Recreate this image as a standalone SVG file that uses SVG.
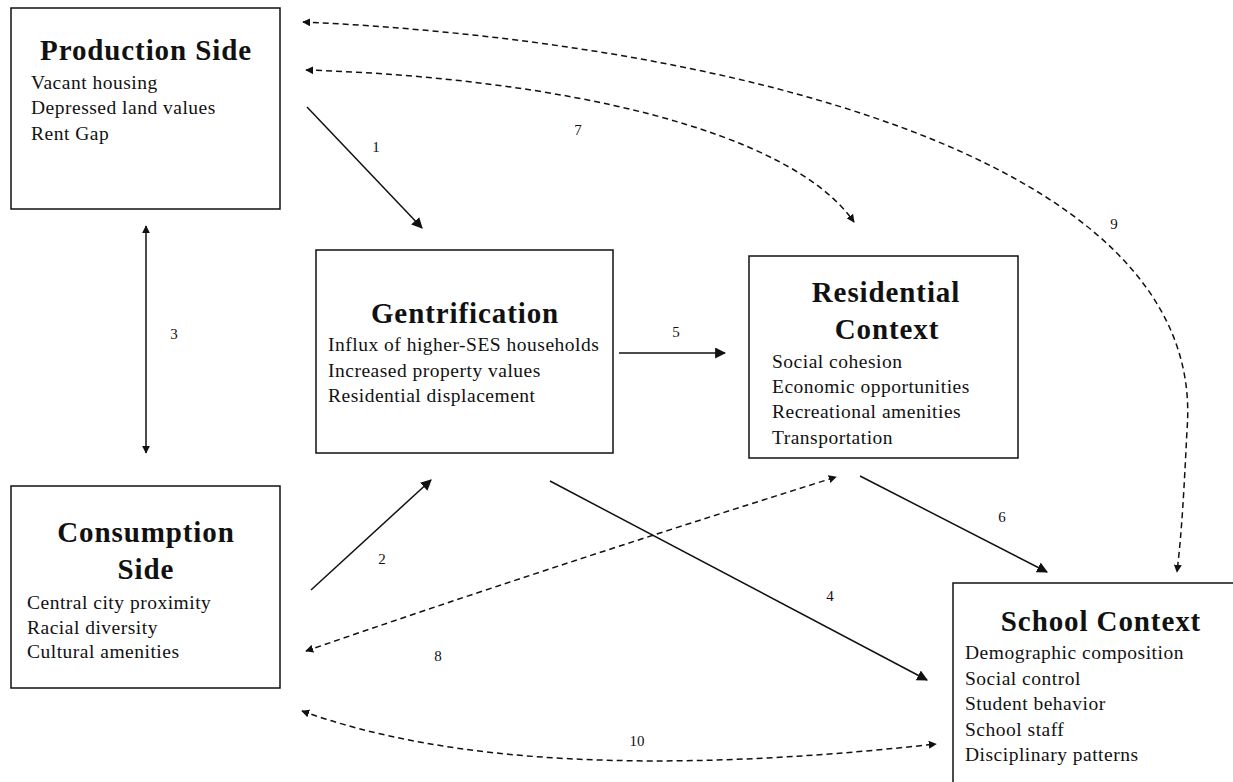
<svg xmlns="http://www.w3.org/2000/svg" width="1233" height="782" viewBox="0 0 1233 782">
<style>
.box{fill:#fff;stroke:#111;stroke-width:1.5}
.title{font-family:"Liberation Serif",serif;font-weight:bold;font-size:29px;letter-spacing:0.9px;fill:#111;text-anchor:middle}
.item{font-family:"Liberation Serif",serif;font-size:19.5px;letter-spacing:0.5px;fill:#111}
.num{font-family:"Liberation Serif",serif;font-size:15px;fill:#111;text-anchor:middle}
.solid{fill:none;stroke:#111;stroke-width:1.5}
.dash{fill:none;stroke:#111;stroke-width:1.5;stroke-dasharray:6 4}
</style>
<defs>
<marker id="ah" viewBox="0 0 10 10" refX="9" refY="5" markerWidth="8" markerHeight="8" markerUnits="userSpaceOnUse" orient="auto-start-reverse">
<path d="M0,0 L10,5 L0,10 z" fill="#111"/>
</marker>
<marker id="ahs" viewBox="0 0 10 10" refX="9" refY="5" markerWidth="11" markerHeight="11" markerUnits="userSpaceOnUse" orient="auto-start-reverse">
<path d="M0,0 L10,5 L0,10 z" fill="#111"/>
</marker>
</defs>
<rect width="1233" height="782" fill="#fff"/>
<g id="production">
<rect class="box" x="11" y="8" width="269" height="201"/>
<text class="title" x="146" y="60">Production Side</text>
<text class="item" x="31" y="89">Vacant housing</text>
<text class="item" x="31" y="114">Depressed land values</text>
<text class="item" x="31" y="140">Rent Gap</text>
</g>
<g id="gentrification">
<rect class="box" x="316" y="250" width="297" height="203"/>
<text class="title" x="465" y="323">Gentrification</text>
<text class="item" x="328" y="351">Influx of higher-SES households</text>
<text class="item" x="328" y="377">Increased property values</text>
<text class="item" x="328" y="402">Residential displacement</text>
</g>
<g id="residential">
<rect class="box" x="749" y="256" width="269" height="202"/>
<text class="title" x="886" y="302">Residential</text>
<text class="title" x="887" y="339">Context</text>
<text class="item" x="772" y="368">Social cohesion</text>
<text class="item" x="772" y="393">Economic opportunities</text>
<text class="item" x="772" y="418">Recreational amenities</text>
<text class="item" x="772" y="444">Transportation</text>
</g>
<g id="consumption">
<rect class="box" x="11" y="486" width="269" height="202"/>
<text class="title" x="146" y="542">Consumption</text>
<text class="title" x="146" y="579">Side</text>
<text class="item" x="27" y="609">Central city proximity</text>
<text class="item" x="27" y="634">Racial diversity</text>
<text class="item" x="27" y="658">Cultural amenities</text>
</g>
<g id="school">
<rect class="box" x="953" y="583" width="300" height="230"/>
<text class="title" x="1101" y="631">School Context</text>
<text class="item" x="965" y="659">Demographic composition</text>
<text class="item" x="965" y="685">Social control</text>
<text class="item" x="965" y="710">Student behavior</text>
<text class="item" x="965" y="736">School staff</text>
<text class="item" x="965" y="761">Disciplinary patterns</text>
</g>
<g id="connectors">
<line class="solid" x1="307" y1="107" x2="422" y2="228" marker-end="url(#ahs)"/>
<line class="solid" x1="311" y1="590" x2="431" y2="480" marker-end="url(#ahs)"/>
<line class="solid" x1="146" y1="226" x2="146" y2="453" marker-start="url(#ah)" marker-end="url(#ah)"/>
<line class="solid" x1="550" y1="481" x2="927" y2="680" marker-end="url(#ahs)"/>
<line class="solid" x1="619" y1="353" x2="725" y2="353" marker-end="url(#ahs)"/>
<line class="solid" x1="860" y1="476" x2="1047" y2="572" marker-end="url(#ahs)"/>
<path class="dash" d="M306,70 C560,78 790,130 854,222" marker-start="url(#ah)" marker-end="url(#ah)"/>
<path class="dash" d="M303,22 C700,40 1210,150 1187,430 C1184,490 1182,530 1177,572" marker-start="url(#ah)" marker-end="url(#ah)"/>
<path class="dash" d="M306,651 Q540,570 836,477" marker-start="url(#ah)" marker-end="url(#ah)"/>
<path class="dash" d="M302,711 Q520,790 936,744" marker-start="url(#ah)" marker-end="url(#ah)"/>
<text class="num" x="376" y="152">1</text>
<text class="num" x="382" y="564">2</text>
<text class="num" x="174" y="339">3</text>
<text class="num" x="830" y="601">4</text>
<text class="num" x="676" y="337">5</text>
<text class="num" x="1002" y="522">6</text>
<text class="num" x="578" y="135">7</text>
<text class="num" x="438" y="661">8</text>
<text class="num" x="1114" y="229">9</text>
<text class="num" x="637" y="746">10</text>
</g>
</svg>
